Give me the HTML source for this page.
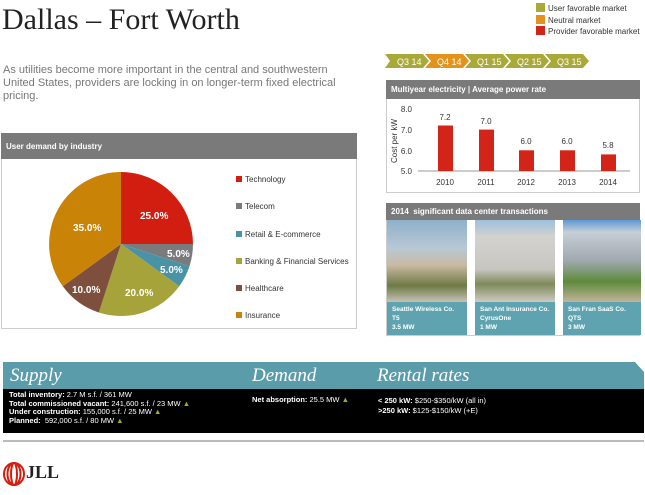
<!DOCTYPE html><html><head><style>
body{margin:0;width:645px;height:495px;background:#fff;font-family:"Liberation Sans",sans-serif;position:relative;overflow:hidden}
.a{position:absolute}
.hd{background:#7a7a7a;color:#fff;font-weight:bold;font-size:8px;padding-left:5px;box-sizing:border-box}
.leg{font-size:8px;color:#333}
.sq{display:inline-block;width:6px;height:6px;margin-right:3px}
.cap{background:#5fa3b0;color:#fff;font-size:6.5px;font-weight:bold;line-height:9px;padding:3px 5px;box-sizing:border-box}
.ser{font-family:"Liberation Serif",serif;font-style:italic;color:#fff;font-size:19px}
.bt{color:#fff;font-size:7.5px;line-height:8.6px}
.tri{color:#9aaf2a}
</style></head><body>
<div class="a" style="left:2px;top:3px;font-family:'Liberation Serif',serif;font-size:30px;color:#222">Dallas – Fort Worth</div>
<div class="a" style="left:3px;top:64px;width:352px;font-size:11px;color:#777;line-height:13px">As utilities become more important in the central and southwestern United States, providers are locking in on longer-term fixed electrical pricing.</div>
<div class="a leg" style="left:536px;top:3px;line-height:11.5px;font-size:8px">
<div><span class="sq" style="background:#a9a93a;width:9px;height:9px;vertical-align:-1px"></span>User favorable market</div>
<div><span class="sq" style="background:#e3921c;width:9px;height:9px;vertical-align:-1px"></span>Neutral market</div>
<div><span class="sq" style="background:#d22418;width:9px;height:9px;vertical-align:-1px"></span>Provider favorable market</div></div>
<svg class="a" style="left:385px;top:54px" width="210" height="15">
<g font-size="9" fill="#fff" font-family="Liberation Sans">
<polygon points="0,0 38,0 44,7 38,14 0,14 5,7" fill="#a9a93a"/><text x="12" y="11">Q3 14</text>
<polygon points="40,0 78,0 84,7 78,14 40,14 46,7" fill="#e3921c"/><text x="52" y="11">Q4 14</text>
<polygon points="80,0 118,0 124,7 118,14 80,14 86,7" fill="#a9a93a"/><text x="92" y="11">Q1 15</text>
<polygon points="120,0 158,0 164,7 158,14 120,14 126,7" fill="#a9a93a"/><text x="132" y="11">Q2 15</text>
<polygon points="160,0 198,0 204,7 198,14 160,14 166,7" fill="#a9a93a"/><text x="172" y="11">Q3 15</text></g></svg>
<div class="a" style="left:386px;top:80px;width:254px;height:113px;border:1px solid #ccc;box-sizing:border-box"></div>
<div class="a hd" style="left:386px;top:80px;width:254px;height:19px;line-height:19px">Multiyear electricity | Average power rate</div>
<svg class="a" style="left:386px;top:99px" width="254" height="94" font-family="Liberation Sans" font-size="8" fill="#333">
<g transform="translate(-386,-99)">
<text x="412" y="112" text-anchor="end">8.0</text><text x="412" y="133" text-anchor="end">7.0</text><text x="412" y="154" text-anchor="end">6.0</text><text x="412" y="174" text-anchor="end">5.0</text>
<text transform="translate(397,141) rotate(-90)" text-anchor="middle">Cost per kW</text>
<line x1="418" y1="171" x2="630" y2="171" stroke="#999"/>
<g fill="#d22418"><rect x="438" y="125.5" width="15" height="45.5"/><rect x="479" y="129.6" width="15" height="41.4"/><rect x="519" y="150.3" width="15" height="20.7"/><rect x="560" y="150.3" width="15" height="20.7"/><rect x="601" y="154.4" width="15" height="16.6"/></g>
<g text-anchor="middle"><text x="445" y="120">7.2</text><text x="486" y="124">7.0</text><text x="526" y="144">6.0</text><text x="567" y="144">6.0</text><text x="608" y="148">5.8</text>
<text x="445" y="185">2010</text><text x="486" y="185">2011</text><text x="526" y="185">2012</text><text x="567" y="185">2013</text><text x="608" y="185">2014</text></g></g></svg>
<div class="a" style="left:1px;top:133px;width:356px;height:196px;border:1px solid #ccc;box-sizing:border-box"></div>
<div class="a hd" style="left:1px;top:133px;width:356px;height:26px;line-height:28px">User demand by industry</div>
<svg class="a" style="left:0;top:0" width="360" height="340" font-family="Liberation Sans" font-weight="bold" font-size="10" fill="#fff">
<path d="M121,244 L121,172 A72,72 0 0 1 193,244Z" fill="#d21e10"/>
<path d="M121,244 L193,244 A72,72 0 0 1 189.5,266.2Z" fill="#7b7b7b"/>
<path d="M121,244 L189.5,266.2 A72,72 0 0 1 179.2,286.3Z" fill="#4a93a6"/>
<path d="M121,244 L179.2,286.3 A72,72 0 0 1 98.8,312.5Z" fill="#a5a33a"/>
<path d="M121,244 L98.8,312.5 A72,72 0 0 1 62.8,286.3Z" fill="#7d4f3c"/>
<path d="M121,244 L62.8,286.3 A72,72 0 0 1 121,172Z" fill="#c98407"/>
<text x="140" y="219">25.0%</text><text x="73" y="231">35.0%</text><text x="167" y="257">5.0%</text><text x="160" y="273">5.0%</text><text x="125" y="296">20.0%</text><text x="72" y="293">10.0%</text></svg>
<div class="a leg" style="left:236px;top:166px;line-height:27.3px">
<div><span class="sq" style="background:#d21e10"></span>Technology</div>
<div><span class="sq" style="background:#7b7b7b"></span>Telecom</div>
<div><span class="sq" style="background:#4a93a6"></span>Retail &amp; E-commerce</div>
<div><span class="sq" style="background:#a5a33a"></span>Banking &amp; Financial Services</div>
<div><span class="sq" style="background:#7d4f3c"></span>Healthcare</div>
<div><span class="sq" style="background:#c98407"></span>Insurance</div></div>
<div class="a" style="left:386px;top:203px;width:254px;height:133px;border:1px solid #ccc;box-sizing:border-box"></div>
<div class="a hd" style="left:386px;top:203px;width:254px;height:17px;line-height:17px">2014&nbsp; significant data center transactions</div>
<div class="a" style="left:387px;top:220px;width:80px;height:82px;background:linear-gradient(#8fb0cc 0,#b8c8d4 35%,#c9b9a2 55%,#6f7a45 80%,#c5c1b6 100%)"></div>
<div class="a" style="left:475px;top:220px;width:80px;height:82px;background:linear-gradient(#9ec0dc 0,#d2d2cf 20%,#c8c6c0 60%,#7e8a5a 78%,#cfcac2 100%)"></div>
<div class="a" style="left:563px;top:220px;width:78px;height:82px;background:linear-gradient(#5d99d4 0,#c7cfd6 15%,#9fa8ae 50%,#5d8a3a 75%,#c2b39a 100%)"></div>
<div class="a cap" style="left:387px;top:302px;width:80px;height:33px">Seattle Wireless Co.<br>T5<br>3.5 MW</div>
<div class="a cap" style="left:475px;top:302px;width:80px;height:33px">San Ant Insurance Co.<br>CyrusOne<br>1 MW</div>
<div class="a cap" style="left:563px;top:302px;width:78px;height:33px">San Fran SaaS Co.<br>QTS<br>3 MW</div>
<svg class="a" style="left:3px;top:362px" width="641" height="27"><polygon points="0,0 632,0 641,10 641,27 0,27" fill="#5a9caa"/></svg>
<div class="a ser" style="left:10px;top:365px">Supply</div>
<div class="a ser" style="left:252px;top:365px">Demand</div>
<div class="a ser" style="left:377px;top:365px">Rental rates</div>
<div class="a" style="left:3px;top:389px;width:641px;height:44px;background:#000"></div>
<div class="a bt" style="left:9px;top:391px"><b>Total inventory:</b> 2.7 M s.f. / 361 MW<br><b>Total commissioned vacant:</b> 241,600 s.f. / 23 MW <span class="tri">▲</span><br><b>Under construction:</b> 155,000 s.f. / 25 MW <span class="tri">▲</span><br><b>Planned:</b>&nbsp; 592,000 s.f. / 80 MW <span class="tri">▲</span></div>
<div class="a bt" style="left:252px;top:396px"><b>Net absorption:</b> 25.5 MW <span class="tri">▲</span></div>
<div class="a bt" style="left:378px;top:396px;line-height:10px"><b>&lt; 250 kW:</b> $250-$350/kW (all in)<br><b>&gt;250 kW:</b> $125-$150/kW (+E)</div>
<div class="a" style="left:3px;top:440px;width:641px;height:2px;background:#bbb"></div>
<svg class="a" style="left:3px;top:462px" width="22" height="24" fill="none" stroke="#d21e10" stroke-width="2"><ellipse cx="11" cy="12" rx="10" ry="11"/><ellipse cx="11" cy="12" rx="6.5" ry="11"/><ellipse cx="11" cy="12" rx="3" ry="11"/></svg>
<div class="a" style="left:26px;top:462px;font-family:'Liberation Serif',serif;font-weight:bold;font-size:18px;color:#222">JLL</div>
</body></html>
